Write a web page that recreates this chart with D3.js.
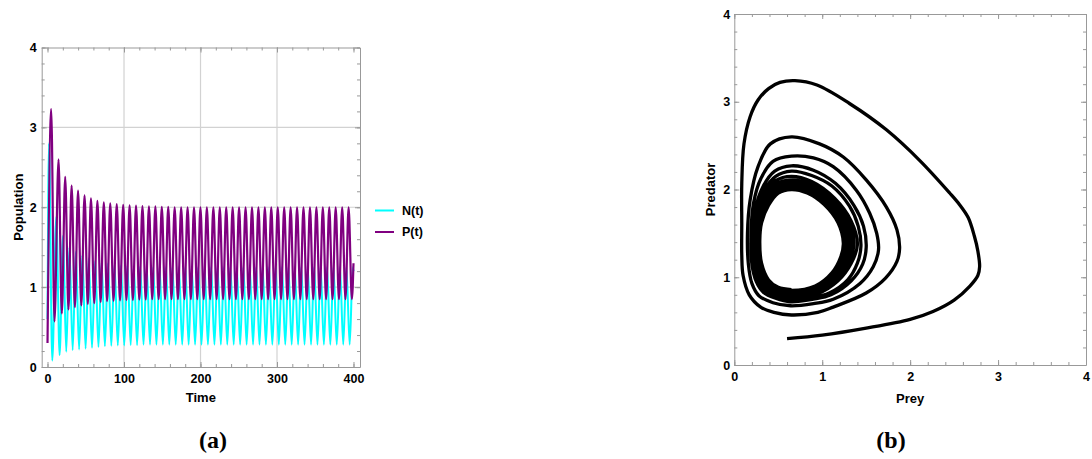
<!DOCTYPE html>
<html>
<head>
<meta charset="utf-8">
<script src="https://cdn.jsdelivr.net/npm/d3@7"></script>
<style>
body { margin: 0; background: #fff; }
svg { display: block; font-family: "Liberation Sans", Arial, sans-serif; }
.axis path.domain, .axis line { stroke: #999; }
.axis text { font-size: 12.5px; font-weight: bold; fill: #000; }
.title { font-size: 13px; font-weight: bold; }
.panel { font-family: "Liberation Serif", "Times New Roman", serif; font-size: 24px; font-weight: bold; }
</style>
</head>
<body>
<div id="container"></div>
<script>
var width = 1092;
var height = 459;

// ---- data ----
// panel (a): one entry per oscillation, keyed on the predator peak
var peakTimes = [4.8, 14.4, 23.1, 31.5, 39.9, 48.4, 56.8, 65.2, 73.6, 82.0, 90.5, 98.9,
    107.3, 115.7, 124.1, 132.6, 141.0, 149.4, 157.8, 166.2, 174.7, 183.1, 191.5, 199.9,
    208.3, 216.8, 225.2, 233.6, 242.0, 250.4, 258.9, 267.3, 275.7, 284.1, 292.5, 301.0,
    309.4, 317.8, 326.2, 334.6, 343.1, 351.5, 359.9, 368.3, 376.7, 385.2, 393.6];
var predPeaks = [3.23, 2.60, 2.38, 2.27, 2.21, 2.15, 2.11, 2.08, 2.06, 2.05, 2.04, 2.03,
    2.025, 2.02, 2.015, 2.01, 2.01, 2.005, 2.005, 2.0, 2.0, 2.0, 2.0, 2.0,
    2.0, 2.0, 2.0, 2.0, 2.0, 2.0, 2.0, 2.0, 2.0, 2.0, 2.0, 2.0,
    2.0, 2.0, 2.0, 2.0, 2.0, 2.0, 2.0, 2.0, 2.0, 2.0, 2.0];
var predTroughs = [0.57, 0.67, 0.72, 0.75, 0.77, 0.79, 0.80, 0.815, 0.825, 0.83, 0.835, 0.84,
    0.84, 0.845, 0.845, 0.85, 0.85, 0.85, 0.85, 0.85, 0.85, 0.85, 0.85, 0.85,
    0.85, 0.85, 0.85, 0.85, 0.85, 0.85, 0.85, 0.85, 0.85, 0.85, 0.85, 0.85,
    0.85, 0.85, 0.85, 0.85, 0.85, 0.85, 0.85, 0.85, 0.85, 0.85, 0.85];
var preyPeaks = [2.80, 1.88, 1.64, 1.50, 1.44, 1.40, 1.36, 1.33, 1.31, 1.30, 1.28, 1.27,
    1.27, 1.26, 1.26, 1.255, 1.25, 1.25, 1.25, 1.25, 1.25, 1.25, 1.25, 1.25,
    1.25, 1.25, 1.25, 1.25, 1.25, 1.25, 1.25, 1.25, 1.25, 1.25, 1.25, 1.25,
    1.25, 1.25, 1.25, 1.25, 1.25, 1.25, 1.25, 1.25, 1.25, 1.25, 1.25];
var preyTroughs = [0.08, 0.15, 0.19, 0.21, 0.22, 0.23, 0.24, 0.25, 0.26, 0.265, 0.27, 0.27,
    0.275, 0.275, 0.28, 0.28, 0.28, 0.28, 0.28, 0.28, 0.28, 0.28, 0.28, 0.28,
    0.28, 0.28, 0.28, 0.28, 0.28, 0.28, 0.28, 0.28, 0.28, 0.28, 0.28, 0.28,
    0.28, 0.28, 0.28, 0.28, 0.28, 0.28, 0.28, 0.28, 0.28, 0.28, 0.28];
// time of each extreme relative to the predator peak of the same cycle
var lags = { preyPeak: -2.9, preyTrough: 1.4, predTrough: 4.3 };
var preyStart = [0, 0.6];
var preyEnd = [[399.1, 1.25], [400, 1.2]];
var predStart = [0, 0.3];
var predEnd = [[400, 1.3]];

var timeTicks = [0, 100, 200, 300, 400];
var popTicks = [0, 1, 2, 3, 4];
var phaseTicks = [0, 1, 2, 3, 4];

// panel (b): trajectory in the prey/predator plane, loop by loop
var phaseStart = [[0.60, 0.30]];
var phaseLoops = [
    [[1.00,0.34],[1.50,0.42],[2.00,0.52],[2.26,0.61],[2.50,0.74],[2.68,0.90],[2.77,1.02],[2.79,1.12],
     [2.77,1.30],[2.73,1.47],[2.66,1.68],[2.56,1.83],[2.45,1.96],[2.11,2.33],[1.73,2.68],[1.31,2.98],
     [0.94,3.19],[0.69,3.24],[0.52,3.22],[0.39,3.15],[0.27,3.02],[0.18,2.83],[0.11,2.52],[0.085,2.07],
     [0.085,1.60],[0.085,1.25],[0.10,1.02],[0.17,0.80],[0.30,0.66],[0.45,0.60],[0.65,0.57]],
    [[0.95,0.60],[1.125,0.66],[1.50,0.82],[1.72,0.99],[1.85,1.18],[1.88,1.33],[1.85,1.54],[1.73,1.80],
     [1.50,2.11],[1.24,2.37],[0.97,2.52],[0.65,2.60],[0.41,2.52],[0.27,2.26],[0.18,1.88],[0.15,1.50],
     [0.16,1.15],[0.20,0.93],[0.28,0.79],[0.44,0.71],[0.64,0.675]],
    [[0.90,0.70],[1.125,0.75],[1.43,0.93],[1.58,1.12],[1.64,1.31],[1.62,1.50],[1.54,1.73],[1.39,1.99],
     [1.125,2.26],[0.90,2.36],[0.65,2.38],[0.44,2.32],[0.30,2.12],[0.22,1.85],[0.19,1.50],[0.20,1.15],
     [0.25,0.95],[0.33,0.83],[0.47,0.76],[0.64,0.72]],
    [[0.90,0.75],[1.10,0.80],[1.33,0.96],[1.46,1.15],[1.50,1.34],[1.47,1.58],[1.36,1.82],[1.15,2.07],
     [0.90,2.22],[0.65,2.27],[0.46,2.21],[0.33,2.04],[0.24,1.78],[0.21,1.46],[0.22,1.15],[0.27,0.96],
     [0.35,0.85],[0.48,0.78],[0.64,0.75]],
    [[0.90,0.77],[1.08,0.82],[1.29,0.97],[1.40,1.16],[1.44,1.35],[1.41,1.58],[1.31,1.81],[1.11,2.04],
     [0.88,2.16],[0.65,2.21],[0.47,2.15],[0.34,1.99],[0.25,1.75],[0.22,1.45],[0.23,1.15],[0.28,0.98],
     [0.36,0.87],[0.49,0.80],[0.645,0.77]],
    [[0.94,0.81],[1.18,0.96],[1.33,1.16],[1.40,1.37],[1.33,1.64],[1.14,1.90],[0.88,2.09],[0.65,2.15],
     [0.47,2.10],[0.35,1.94],[0.26,1.68],[0.23,1.44],[0.25,1.13],[0.33,0.94],[0.46,0.83],[0.65,0.79]],
    [[0.93,0.83],[1.16,0.98],[1.30,1.17],[1.36,1.37],[1.30,1.63],[1.12,1.88],[0.87,2.06],[0.65,2.11],
     [0.47,2.06],[0.36,1.91],[0.27,1.66],[0.24,1.43],[0.26,1.13],[0.34,0.94],[0.47,0.84],[0.65,0.80]],
    [[0.93,0.84],[1.15,0.99],[1.28,1.18],[1.33,1.37],[1.27,1.63],[1.10,1.87],[0.86,2.03],[0.65,2.08],
     [0.48,2.03],[0.37,1.89],[0.28,1.64],[0.25,1.43],[0.27,1.14],[0.35,0.95],[0.48,0.85],[0.65,0.815]],
    [[0.92,0.85],[1.14,1.00],[1.26,1.19],[1.31,1.38],[1.25,1.63],[1.08,1.86],[0.85,2.01],[0.65,2.06],
     [0.49,2.01],[0.38,1.87],[0.29,1.63],[0.26,1.43],[0.28,1.15],[0.36,0.96],[0.49,0.86],[0.65,0.825]],
    [[0.92,0.86],[1.13,1.01],[1.245,1.20],[1.295,1.38],[1.235,1.625],[1.065,1.85],[0.845,1.995],[0.65,2.045],
     [0.49,1.995],[0.38,1.855],[0.295,1.625],[0.265,1.425],[0.29,1.15],[0.365,0.96],[0.49,0.865],[0.65,0.833]],
    [[0.92,0.87],[1.12,1.02],[1.23,1.21],[1.28,1.38],[1.22,1.62],[1.05,1.84],[0.84,1.98],[0.65,2.03],
     [0.49,1.98],[0.38,1.84],[0.30,1.62],[0.27,1.42],[0.30,1.15],[0.37,0.96],[0.49,0.87],[0.65,0.84]],
    [[0.92,0.885],[1.115,1.035],[1.22,1.22],[1.26,1.385],[1.20,1.62],[1.035,1.835],[0.835,1.97],[0.65,2.015],
     [0.495,1.97],[0.385,1.83],[0.305,1.62],[0.28,1.42],[0.305,1.155],[0.38,0.965],[0.495,0.877],[0.65,0.85]],
    [[0.92,0.90],[1.11,1.05],[1.21,1.23],[1.24,1.39],[1.18,1.62],[1.02,1.83],[0.83,1.96],[0.65,2.00],
     [0.50,1.96],[0.39,1.82],[0.31,1.62],[0.29,1.42],[0.31,1.16],[0.39,0.97],[0.50,0.885],[0.65,0.86]]
];

var svg = d3.select("div#container").append("svg")
    .attr("width", width)
    .attr("height", height)
    .attr("viewBox", "0 0 " + width + " " + height);

// draws a Mathematica style frame: inward ticks on all four sides
function drawFrame(x, y, xMajor, yMajor, xStep, yStep, xPad, yPad) {
    var xr = x.range(), yr = y.range();
    var fmt = d3.format("d");
    var xMinor = d3.range(xMajor[0], xMajor[xMajor.length - 1] + xStep / 2, xStep);
    var yMinor = d3.range(yMajor[0], yMajor[yMajor.length - 1] + yStep / 2, yStep);
    var axes = [
        [d3.axisBottom(x).tickValues(xMajor).tickFormat(fmt).tickPadding(xPad), "translate(0," + yr[0] + ")"],
        [d3.axisTop(x).tickValues(xMajor).tickFormat(""), "translate(0," + yr[1] + ")"],
        [d3.axisLeft(y).tickValues(yMajor).tickFormat(fmt).tickPadding(yPad), "translate(" + xr[0] + ",0)"],
        [d3.axisRight(y).tickValues(yMajor).tickFormat(""), "translate(" + xr[1] + ",0)"]
    ];
    axes.forEach(function(a) {
        svg.append("g").attr("class", "axis")
            .attr("transform", a[1])
            .call(a[0].tickSize(-5).tickSizeOuter(0));
    });
    var minors = [
        [d3.axisBottom(x).tickValues(xMinor), "translate(0," + yr[0] + ")"],
        [d3.axisTop(x).tickValues(xMinor), "translate(0," + yr[1] + ")"],
        [d3.axisLeft(y).tickValues(yMinor), "translate(" + xr[0] + ",0)"],
        [d3.axisRight(y).tickValues(yMinor), "translate(" + xr[1] + ",0)"]
    ];
    minors.forEach(function(a) {
        var g = svg.append("g").attr("class", "axis")
            .attr("transform", a[1])
            .call(a[0].tickSize(-3).tickSizeOuter(0).tickFormat(""));
        g.select(".domain").remove();
    });
}

// ---- panel (a): time series ----
var xT = d3.scaleLinear().domain([-7.6, 408.5]).range([41.7, 360]);
var yT = d3.scaleLinear().domain([0, 4]).range([367, 47.5]);

var grid = svg.append("g").attr("class", "grid");
grid.selectAll("line.v").data([100, 200, 300]).enter().append("line")
    .attr("x1", function(d) { return xT(d); }).attr("x2", function(d) { return xT(d); })
    .attr("y1", yT(0)).attr("y2", yT(4))
    .attr("stroke", "#d2d2d2").attr("stroke-width", 1.2);
grid.selectAll("line.h").data([1, 2, 3]).enter().append("line")
    .attr("y1", function(d) { return yT(d); }).attr("y2", function(d) { return yT(d); })
    .attr("x1", xT.range()[0]).attr("x2", xT.range()[1])
    .attr("stroke", "#d2d2d2").attr("stroke-width", 1.2);

var preySeries = [preyStart];
var predSeries = [predStart];
peakTimes.forEach(function(t, i) {
    preySeries.push([t + lags.preyPeak, preyPeaks[i]]);
    preySeries.push([t + lags.preyTrough, preyTroughs[i]]);
    predSeries.push([t, predPeaks[i]]);
    predSeries.push([t + lags.predTrough, predTroughs[i]]);
});
preySeries = preySeries.concat(preyEnd);
predSeries = predSeries.concat(predEnd);

svg.append("clipPath").attr("id", "clipA").append("rect")
    .attr("x", 41.7).attr("y", 47.5).attr("width", 360 - 41.7).attr("height", 367 - 47.5);

var timeLine = d3.line()
    .x(function(d) { return xT(d[0]); })
    .y(function(d) { return yT(d[1]); })
    .curve(d3.curveMonotoneX);

svg.append("path").datum(preySeries)
    .attr("clip-path", "url(#clipA)")
    .attr("d", timeLine).attr("fill", "none")
    .attr("stroke", "#00ffff").attr("stroke-width", 2);
svg.append("path").datum(predSeries)
    .attr("clip-path", "url(#clipA)")
    .attr("d", timeLine).attr("fill", "none")
    .attr("stroke", "#800080").attr("stroke-width", 2.2);

drawFrame(xT, yT, timeTicks, popTicks, 20, 0.2, 7, 5);

svg.append("text").attr("class", "title")
    .attr("transform", "translate(18," + ((47.5 + 367) / 2) + ") rotate(-90)")
    .attr("text-anchor", "middle").attr("dy", "0.35em")
    .text("Population");
svg.append("text").attr("class", "title")
    .attr("x", (41.7 + 360) / 2).attr("y", 402)
    .attr("text-anchor", "middle")
    .text("Time");

// legend
var legend = svg.append("g").attr("transform", "translate(375,210.5)");
[["N(t)", "#00ffff"], ["P(t)", "#800080"]].forEach(function(d, i) {
    legend.append("line")
        .attr("x1", 0).attr("x2", 19)
        .attr("y1", i * 21.5).attr("y2", i * 21.5)
        .attr("stroke", d[1]).attr("stroke-width", 2);
    legend.append("text")
        .attr("x", 27).attr("y", i * 21.5).attr("dy", "0.35em")
        .style("font-size", "12.5px").style("font-weight", "bold")
        .text(d[0]);
});

// ---- panel (b): phase portrait ----
var xP = d3.scaleLinear().domain([0, 4]).range([734.3, 1086]);
var yP = d3.scaleLinear().domain([0, 4]).range([365, 14]);

var phasePoints = phaseStart.slice();
phaseLoops.forEach(function(loop) { phasePoints = phasePoints.concat(loop); });

var phaseLine = d3.line()
    .x(function(d) { return xP(d[0]); })
    .y(function(d) { return yP(d[1]); })
    .curve(d3.curveCatmullRom.alpha(0.5));

svg.append("path").datum(phasePoints)
    .attr("d", phaseLine).attr("fill", "none")
    .attr("stroke", "#000").attr("stroke-width", 3.3)
    .attr("stroke-linejoin", "round");

drawFrame(xP, yP, phaseTicks, phaseTicks, 0.2, 0.2, 7, 4);

svg.append("text").attr("class", "title")
    .attr("transform", "translate(710," + ((14 + 365) / 2) + ") rotate(-90)")
    .attr("text-anchor", "middle").attr("dy", "0.35em")
    .text("Predator");
svg.append("text").attr("class", "title")
    .attr("x", (734.3 + 1086) / 2).attr("y", 403)
    .attr("text-anchor", "middle")
    .text("Prey");

// panel captions
svg.append("text").attr("class", "panel")
    .attr("x", 213).attr("y", 448).attr("text-anchor", "middle").text("(a)");
svg.append("text").attr("class", "panel")
    .attr("x", 891).attr("y", 448).attr("text-anchor", "middle").text("(b)");
</script>
</body>
</html>
